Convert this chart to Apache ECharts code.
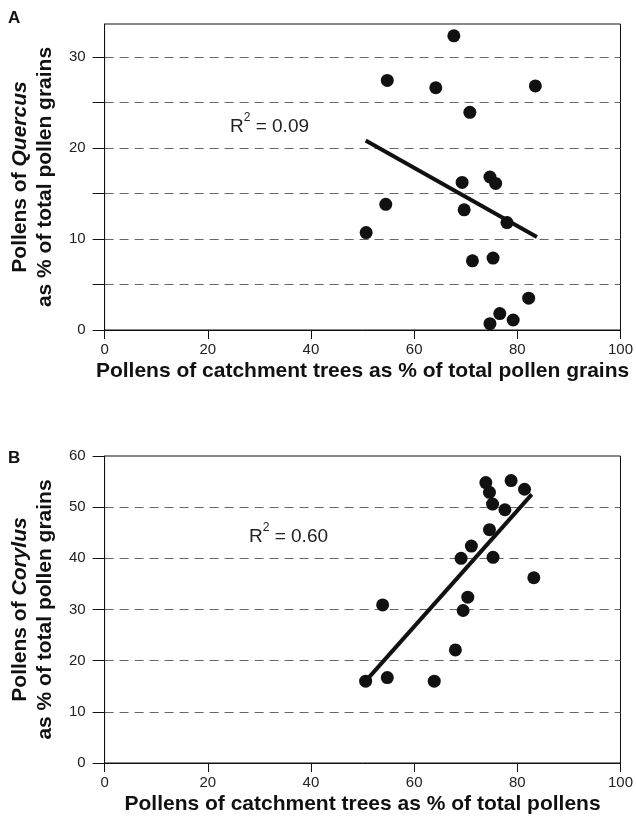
<!DOCTYPE html>
<html>
<head>
<meta charset="utf-8">
<script src="https://cdn.jsdelivr.net/npm/echarts@6/dist/echarts.min.js"></script>
<style>
  html, body { margin: 0; padding: 0; background: #fff; }
  #chart { width: 636px; height: 821px; }
</style>
</head>
<body>
<div id="chart"></div>
<script>
// panel A: Quercus vs catchment trees
var catchA = [67.7, 54.8, 64.2, 83.5, 70.8, 69.3, 74.7, 75.8, 54.5, 69.7, 78.0, 50.7, 71.3, 75.3, 82.2, 76.6, 74.7, 79.2]
var quercus = [32.3, 27.4, 26.6, 26.8, 23.9, 16.2, 16.8, 16.1, 13.8, 13.2, 11.8, 10.7, 7.6, 7.9, 3.5, 1.8, 0.7, 1.1]
var trendAx = [50.6, 83.8]
var trendAy = [20.8, 10.2]

// panel B: Corylus vs catchment trees
var catchB = [50.6, 53.9, 54.8, 63.9, 68.0, 69.1, 69.5, 70.4, 71.1, 73.9, 74.6, 74.6, 75.2, 75.3, 77.6, 78.8, 81.4, 83.2]
var corylus = [16.0, 30.9, 16.7, 16.0, 22.1, 40.0, 29.8, 32.4, 42.4, 54.8, 52.9, 45.6, 50.6, 40.2, 49.5, 55.2, 53.5, 36.2]
var trendBx = [50.6, 82.8]
var trendBy = [16.0, 52.5]

// A axis: ticks and dashed lines every 5, labels every 10
var yTicksA = [0, 5, 10, 15, 20, 25, 30]
var yLabelsA = [0, 10, 20, 30]
var r2A = '0.09'
var r2B = '0.60'

function pairs(xs, ys) {
  return xs.map(function (x, i) { return [x, ys[i]] })
}

var ink = '#111'
var labelColor = '#222'
var font = '"Liberation Sans", Arial, sans-serif'

function xAxisFor(idx, name) {
  return {
    gridIndex: idx,
    type: 'value',
    min: 0,
    max: 100,
    interval: 20,
    name: name,
    nameLocation: 'middle',
    nameGap: 31,
    nameTextStyle: { fontFamily: font, fontWeight: 'bold', fontSize: 21, color: ink },
    axisLine: { show: true, lineStyle: { color: ink, width: 1 } },
    axisTick: { show: true, length: 9, lineStyle: { color: ink } },
    axisLabel: { fontFamily: font, fontSize: 15, color: labelColor, margin: 12 },
    splitLine: { show: false }
  }
}

function yName(genus) {
  return '{b|Pollens of }{i|' + genus + '}\n{b|as % of total pollen grains}'
}

var yNameStyle = {
  lineHeight: 25,
  rich: {
    b: { fontFamily: font, fontWeight: 'bold', fontSize: 21, color: ink, lineHeight: 25 },
    i: { fontFamily: font, fontWeight: 'bold', fontStyle: 'italic', fontSize: 21, color: ink, lineHeight: 25 }
  }
}

var gridDash = { color: '#666', width: 1, type: [9, 6] }

var option = {
  animation: false,
  backgroundColor: '#fff',
  textStyle: { fontFamily: font },
  grid: [
    { left: 100, right: 14, top: 24, height: 306, show: true, borderColor: ink, borderWidth: 1, containLabel: false },
    { left: 100, right: 14, top: 456, height: 307, show: true, borderColor: ink, borderWidth: 1, containLabel: false }
  ],
  xAxis: [
    xAxisFor(0, 'Pollens of catchment trees as % of total pollen grains'),
    xAxisFor(1, 'Pollens of catchment trees as % of total pollens')
  ],
  yAxis: [
    {
      gridIndex: 0,
      type: 'value',
      min: 0,
      max: 33.6,
      interval: 5,
      name: yName('Quercus'),
      nameLocation: 'middle',
      nameRotate: 90,
      nameGap: 46,
      nameTextStyle: yNameStyle,
      axisLine: { show: true, lineStyle: { color: ink, width: 1 } },
      axisTick: { show: true, length: 12, customValues: yTicksA, lineStyle: { color: ink } },
      axisLabel: { fontFamily: font, fontSize: 15, color: labelColor, margin: 19, customValues: yLabelsA },
      splitLine: { show: true, showMinLine: false, lineStyle: gridDash }
    },
    {
      gridIndex: 1,
      type: 'value',
      min: 0,
      max: 60,
      interval: 10,
      name: yName('Corylus'),
      nameLocation: 'middle',
      nameRotate: 90,
      nameGap: 46,
      nameTextStyle: yNameStyle,
      axisLine: { show: true, lineStyle: { color: ink, width: 1 } },
      axisTick: { show: true, length: 12, lineStyle: { color: ink } },
      axisLabel: { fontFamily: font, fontSize: 15, color: labelColor, margin: 19 },
      splitLine: { show: true, showMinLine: false, showMaxLine: false, lineStyle: gridDash }
    }
  ],
  series: [
    {
      type: 'line',
      xAxisIndex: 0,
      yAxisIndex: 0,
      data: pairs(trendAx, trendAy),
      symbol: 'none',
      lineStyle: { color: ink, width: 4 },
      z: 3
    },
    {
      type: 'scatter',
      xAxisIndex: 0,
      yAxisIndex: 0,
      data: pairs(catchA, quercus),
      symbol: 'circle',
      symbolSize: 13,
      itemStyle: { color: ink, opacity: 1 },
      z: 4
    },
    {
      type: 'line',
      xAxisIndex: 1,
      yAxisIndex: 1,
      data: pairs(trendBx, trendBy),
      symbol: 'none',
      lineStyle: { color: ink, width: 4 },
      z: 3
    },
    {
      type: 'scatter',
      xAxisIndex: 1,
      yAxisIndex: 1,
      data: pairs(catchB, corylus),
      symbol: 'circle',
      symbolSize: 13,
      itemStyle: { color: ink, opacity: 1 },
      z: 4
    }
  ],
  graphic: [
    { type: 'text', left: 8, top: 10, style: { text: 'A', font: 'bold 17px ' + font, fill: ink } },
    { type: 'text', left: 8, top: 450, style: { text: 'B', font: 'bold 17px ' + font, fill: ink } },
    {
      type: 'text', left: 230, top: 112,
      style: {
        text: '{r|R}{s|2}{r| = ' + r2A + '}',
        rich: {
          r: { fontFamily: font, fontSize: 19, fill: labelColor, lineHeight: 24, verticalAlign: 'bottom' },
          s: { fontFamily: font, fontSize: 12, fill: labelColor, lineHeight: 24, verticalAlign: 'top' }
        }
      }
    },
    {
      type: 'text', left: 249, top: 522,
      style: {
        text: '{r|R}{s|2}{r| = ' + r2B + '}',
        rich: {
          r: { fontFamily: font, fontSize: 19, fill: labelColor, lineHeight: 24, verticalAlign: 'bottom' },
          s: { fontFamily: font, fontSize: 12, fill: labelColor, lineHeight: 24, verticalAlign: 'top' }
        }
      }
    }
  ]
}

var chart = echarts.init(document.getElementById('chart'), null, { renderer: 'canvas' })
chart.setOption(option)
</script>
</body>
</html>
